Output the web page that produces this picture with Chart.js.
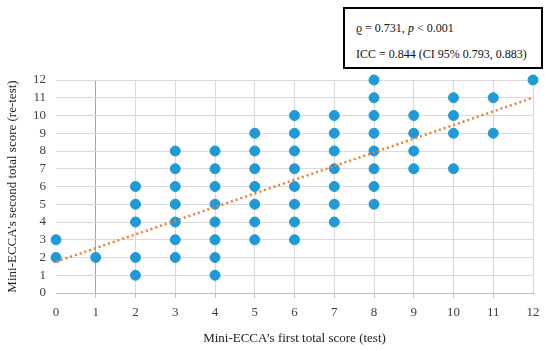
<!DOCTYPE html>
<html>
<head>
<meta charset="utf-8">
<script src="https://cdn.jsdelivr.net/npm/chart.js@4"></script>
<style>
  html, body { margin: 0; padding: 0; background: #fff; }
  #wrap { position: relative; width: 550px; height: 351px; }
  #stats {
    position: absolute; left: 343px; top: 7px; width: 196px; height: 58px;
    border: 2px solid #000; background: #fff;
    font-family: "Liberation Serif", serif; font-size: 12px; color: #111;
  }
  #stats div { position: absolute; left: 11px; white-space: nowrap; }
</style>
</head>
<body>
<div id="wrap">
  <canvas id="chart" width="550" height="351"></canvas>
  <div id="stats">
    <div style="top: 12px;">ϱ = 0.731, <i>p</i> &lt; 0.001</div>
    <div style="top: 38px;">ICC = 0.844 (CI 95% 0.793, 0.883)</div>
  </div>
</div>
<script>
// first test score (x) and re-test score (y) of every visible point
var testScores = [0, 0, 1,
    2, 2, 2, 2, 2,
    3, 3, 3, 3, 3, 3, 3,
    4, 4, 4, 4, 4, 4, 4, 4,
    5, 5, 5, 5, 5, 5, 5,
    6, 6, 6, 6, 6, 6, 6, 6,
    7, 7, 7, 7, 7, 7, 7,
    8, 8, 8, 8, 8, 8, 8, 8,
    9, 9, 9, 9,
    10, 10, 10, 10,
    11, 11,
    12];
var retestScores = [2, 3, 2,
    1, 2, 4, 5, 6,
    2, 3, 4, 5, 6, 7, 8,
    1, 2, 3, 4, 5, 6, 7, 8,
    3, 4, 5, 6, 7, 8, 9,
    3, 4, 5, 6, 7, 8, 9, 10,
    4, 5, 6, 7, 8, 9, 10,
    5, 6, 7, 8, 9, 10, 11, 12,
    7, 8, 9, 10,
    7, 9, 10, 11,
    9, 11,
    12];
// linear trend line, read at both ends
var trendX = [0, 12];
var trendY = [1.76, 11];

var points = [];
for (var i = 0; i < testScores.length; i++) {
    points.push({ x: testScores[i], y: retestScores[i] });
}
var trend = [];
for (var j = 0; j < trendX.length; j++) {
    trend.push({ x: trendX[j], y: trendY[j] });
}

var serif = 'Liberation Serif';

new Chart(document.getElementById('chart'), {
    type: 'scatter',
    data: {
        datasets: [{
            data: points,
            backgroundColor: '#1f9ad6',
            borderColor: '#1f9ad6',
            pointRadius: 5,
            pointHoverRadius: 5,
            clip: false,
            order: 2
        }, {
            type: 'line',
            data: trend,
            borderColor: '#ed7d31',
            borderWidth: 2.5,
            borderDash: [2, 3],
            pointRadius: 0,
            fill: false,
            clip: false,
            order: 1
        }]
    },
    options: {
        responsive: false,
        animation: false,
        layout: { padding: { top: 80, right: 17, left: 0, bottom: 0 } },
        plugins: { legend: { display: false }, tooltip: { enabled: false } },
        scales: {
            x: {
                type: 'linear',
                min: 0, max: 12,
                ticks: { stepSize: 1, autoSkip: false, color: '#404040', font: { family: serif, size: 13 }, padding: 7 },
                grid: {
                    color: function (ctx) {
                        if (ctx.tick && ctx.tick.value === 0) return 'rgba(0,0,0,0)';
                        if (ctx.tick && ctx.tick.value === 1) return '#a6a6a6';
                        return '#d9d9d9';
                    },
                    tickColor: function (ctx) {
                        if (ctx.tick && (ctx.tick.value === 0 || ctx.tick.value === 12)) return 'rgba(0,0,0,0)';
                        return '#bfbfbf';
                    },
                    tickLength: 5,
                    lineWidth: 1
                },
                border: { color: '#bfbfbf', width: 1 },
                title: {
                    display: true,
                    text: 'Mini-ECCA\u2019s first total score (test)',
                    color: '#222',
                    font: { family: serif, size: 13 },
                    padding: { top: 5, bottom: 5 }
                },
                afterFit: function (scale) { scale.height = 58; }
            },
            y: {
                type: 'linear',
                min: 0, max: 12,
                ticks: { stepSize: 1, autoSkip: false, color: '#404040', font: { family: serif, size: 13 }, padding: 10 },
                grid: { color: '#d9d9d9', drawTicks: false, lineWidth: 1 },
                border: { display: false },
                title: {
                    display: true,
                    text: 'Mini-ECCA\u2019s second total score (re-test)',
                    color: '#222',
                    font: { family: serif, size: 13 },
                    padding: { top: 5, bottom: 2 }
                },
                afterFit: function (scale) { scale.width = 56; }
            }
        }
    }
});
</script>
</body>
</html>
